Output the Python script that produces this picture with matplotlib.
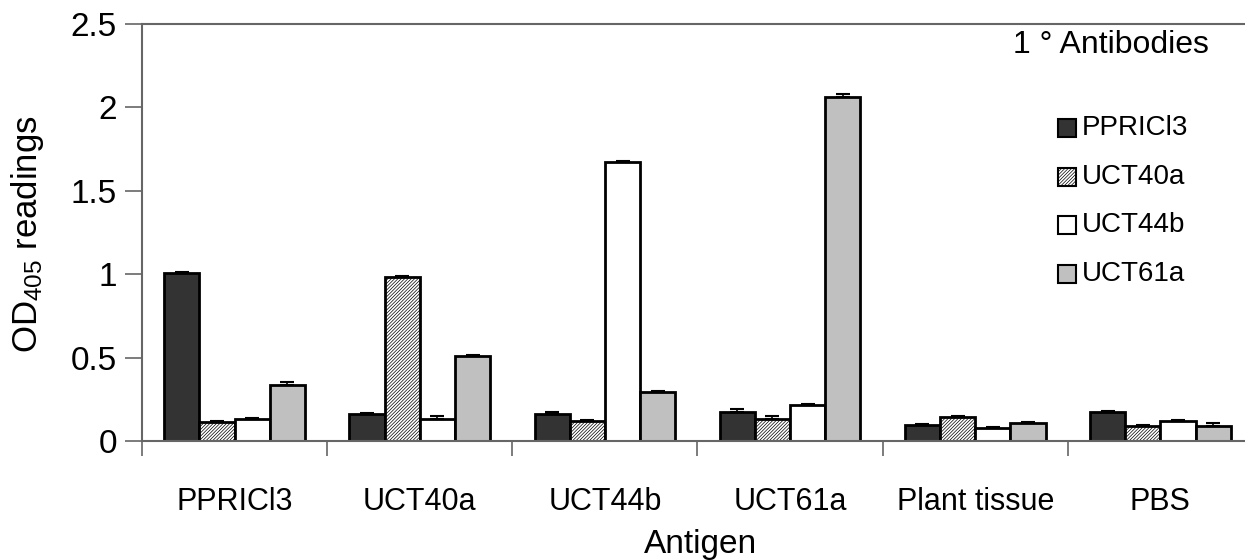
import matplotlib
matplotlib.use("Agg")
import matplotlib.pyplot as plt
import numpy as np
from matplotlib.patches import Rectangle

plt.rcParams['font.family'] = ['Liberation Sans', 'DejaVu Sans']
plt.rcParams['mathtext.default'] = 'regular'
plt.rcParams['hatch.linewidth'] = 0.5

categories = ["PPRICl3", "UCT40a", "UCT44b", "UCT61a", "Plant tissue", "PBS"]
series_names = ["PPRICl3", "UCT40a", "UCT44b", "UCT61a"]
ppricl3 = [1.01, 0.16, 0.16, 0.175, 0.095, 0.174]
uct40a = [0.116, 0.985, 0.12, 0.132, 0.146, 0.092]
uct44b = [0.132, 0.132, 1.673, 0.214, 0.08, 0.12]
uct61a = [0.336, 0.51, 0.296, 2.064, 0.106, 0.092]
err_ppricl3 = [0.005, 0.005, 0.015, 0.015, 0.005, 0.005]
err_uct40a = [0.005, 0.005, 0.005, 0.015, 0.005, 0.005]
err_uct44b = [0.005, 0.015, 0.005, 0.005, 0.005, 0.005]
err_uct61a = [0.015, 0.005, 0.005, 0.015, 0.005, 0.015]

values = [ppricl3, uct40a, uct44b, uct61a]
errors = [err_ppricl3, err_uct40a, err_uct44b, err_uct61a]
facecolors = ["#333333", "#ffffff", "#ffffff", "#c0c0c0"]
hatches = [None, "//////////", None, None]

W, H = 1245, 560
fig = plt.figure(figsize=(W / 100, H / 100), dpi=100)
ax = fig.add_axes([142 / W, 1 - 441 / H, (1253 - 142) / W, (441 - 24) / H])

x = np.arange(len(categories))
bw = 0.19
for k in range(4):
    xs = x + (k - 1.5) * bw
    ax.bar(xs, values[k], width=bw, color=facecolors[k], edgecolor="black",
           linewidth=2.0, hatch=hatches[k], zorder=2)
    ax.errorbar(xs, values[k], yerr=[np.zeros(len(x)), errors[k]], fmt="none",
                ecolor="black", elinewidth=1.2, capsize=5, capthick=1.5, zorder=3)

ax.set_xlim(-0.5, 5.5)
ax.set_ylim(0, 2.5)
ax.set_yticks([0, 0.5, 1, 1.5, 2, 2.5])
ax.set_yticklabels(["0", "0.5", "1", "1.5", "2", "2.5"])
ax.set_xticks(np.arange(-0.5, 6.0, 1.0))
ax.set_xticklabels([])
ax.set_xticks(x, minor=True)
ax.set_xticklabels(categories, minor=True, fontsize=22)
ax.tick_params(axis="x", which="major", direction="out", length=11, width=1.2, color="#666666")
ax.tick_params(axis="x", which="minor", length=0, pad=33)
ax.tick_params(axis="y", direction="out", length=12, width=1.2, color="#666666",
               labelsize=24, pad=6)

for side in ["left", "bottom", "top"]:
    ax.spines[side].set_color("#666666")
    ax.spines[side].set_linewidth(1.5)
ax.spines["right"].set_visible(False)

fig.text(28 / W, 1 - 234 / H, "OD$_{405}$ readings", rotation=90, ha="center",
         va="center", fontsize=25)
fig.text(700 / W, 1 - 545 / H, "Antigen", ha="center", va="center", fontsize=24)

# legend
fig.text(1111 / W, 1 - 45 / H, "1 ° Antibodies", ha="center", va="center", fontsize=23)
for i, name in enumerate(series_names):
    yc = 128 + i * 48.7
    rect = Rectangle((1058 / W, 1 - (yc + 9) / H), 18 / W, 18 / H,
                     transform=fig.transFigure, facecolor=facecolors[i],
                     edgecolor="black", linewidth=1.5, hatch=hatches[i])
    fig.patches.append(rect)
    fig.text(1082 / W, 1 - yc / H, name, ha="left", va="center", fontsize=20)

fig.savefig("out.png", dpi=100)
